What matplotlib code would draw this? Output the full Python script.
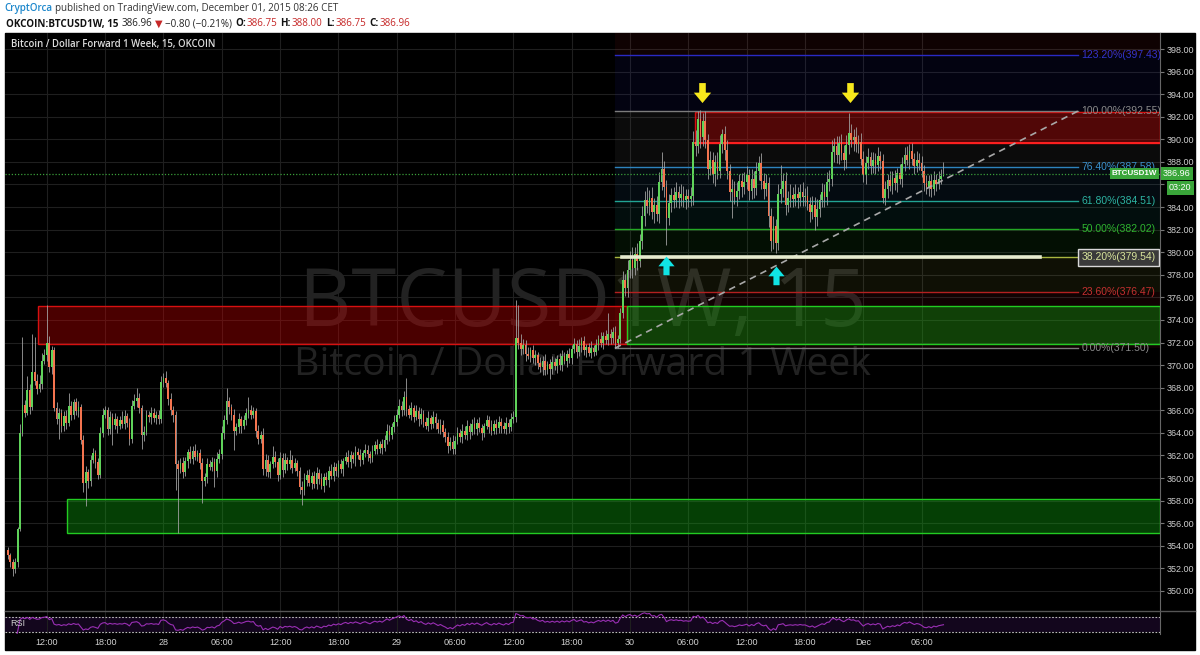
import numpy as np
import pandas as pd
import matplotlib
matplotlib.use('Agg')
import matplotlib.pyplot as plt
from matplotlib.patches import Rectangle
from matplotlib.lines import Line2D
from matplotlib.path import Path
import matplotlib.transforms as mtrans

# OKCOIN BTCUSD1W, 15 min bars, Nov 27 08:00 -> Dec 01 08:15 (CET)
close = [
    353.2, 352.6, 351.9, 352.6, 355.5, 364.0, 366.5, 365.8, 367.8, 366.3, 369.4, 368.6, 367.9, 368.3, 370.4, 370.9,
    372.0, 369.8, 371.3, 366.2, 365.2, 365.8, 364.6, 365.5, 364.9, 366.4, 365.6, 366.7, 365.9, 366.3, 363.4, 359.6, 360.5, 359.7, 361.6, 362.2, 361.4, 360.3, 364.0, 365.6,
    366.0, 364.3, 365.4, 364.7, 365.2, 364.6, 365.1, 364.8, 365.5, 364.9, 363.5, 366.4, 366.8, 367.1, 366.2, 363.8, 364.1, 365.6, 365.4, 365.8, 365.3, 365.6, 365.2, 368.5,
    368.9, 368.4, 367.0, 366.0, 365.6, 361.2, 360.8, 361.3, 360.5, 361.5, 362.3, 361.7, 362.4, 361.9, 362.2, 361.3, 359.7, 360.1, 361.2, 361.0, 361.4, 360.6, 361.7, 362.1,
    364.0, 365.1, 366.8, 366.3, 365.6, 364.2, 364.5, 365.2, 364.6, 365.1, 365.8, 366.0, 365.6, 365.9, 364.2, 363.5, 363.8, 360.8, 361.6, 360.5, 361.2, 361.9, 361.4, 360.3,
    361.8, 360.7, 361.6, 361.2, 361.6, 360.9, 361.3, 360.6, 359.2, 358.9, 359.8, 360.3, 359.6, 360.2, 359.5, 360.4, 359.9, 359.3, 360.1, 359.8, 360.6, 360.2, 361.0, 360.6,
    361.2, 360.8, 361.5, 361.9, 361.4, 362.0, 361.7, 362.3, 362.0, 361.6, 362.2, 362.5, 362.1, 361.8, 362.4, 362.9, 362.6, 363.0, 362.7, 363.4, 364.2, 363.8, 364.5, 365.0,
    365.6, 366.4, 366.0, 367.2, 366.1, 365.6, 366.2, 365.4, 365.9, 365.2, 365.7, 365.0, 364.6, 365.3, 364.8, 365.4, 364.9, 364.3, 364.7, 364.1, 363.6, 362.8, 363.2, 362.6,
    363.3, 364.0, 363.6, 364.2, 363.8, 364.6, 364.1, 364.8, 364.3, 364.9, 364.4, 364.0, 364.6, 365.1, 364.5, 364.2, 364.8, 364.4, 365.0, 364.6, 364.3, 364.9, 364.5, 365.2,
    365.4, 372.4, 372.0, 371.4, 371.8, 371.0, 370.8, 371.3, 370.6, 370.9, 370.2, 369.8, 370.4, 369.6, 370.1, 369.7, 370.3, 369.9, 370.5, 370.0, 370.8, 370.4, 371.0, 370.6,
    371.4, 371.9, 371.2, 371.7, 372.1, 371.3, 371.6, 371.1, 371.5, 371.2, 371.8, 372.3, 372.0, 372.6, 372.2, 372.8, 372.4, 372.9, 372.0, 372.3, 374.6, 377.5, 376.8, 378.4,
    379.3, 378.6, 379.8, 379.2, 381.0, 383.2, 384.6, 384.1, 384.8, 383.6, 384.2, 383.4, 386.2, 387.4, 385.8, 383.0, 384.4, 385.1, 384.6, 385.3, 384.8, 385.2, 384.6, 385.0,
    384.7, 385.0, 389.8, 389.4, 391.8, 390.2, 391.6, 389.9, 387.4, 388.2, 386.9, 388.0, 387.2, 389.6, 390.5, 389.1, 387.2, 385.3, 385.6, 384.9, 385.4, 386.3, 385.8, 386.2,
    386.8, 385.4, 386.5, 385.7, 387.2, 387.9, 386.3, 385.6, 386.1, 383.2, 381.0, 382.3, 380.8, 385.2, 385.6, 386.3, 384.2, 384.8, 385.1, 384.7, 385.2, 384.8, 385.3, 384.9,
    385.0, 384.3, 383.6, 384.2, 383.1, 383.8, 384.6, 385.3, 384.9, 386.2, 386.5, 388.9, 389.4, 388.6, 389.7, 388.8, 388.2, 389.5, 390.6, 389.9, 390.2, 389.6, 389.8, 388.3,
    386.8, 387.9, 388.4, 387.6, 388.2, 387.7, 388.5, 388.1, 384.8, 385.6, 386.4, 385.9, 386.6, 386.1, 387.0, 386.5, 387.8, 388.6, 388.2, 389.0, 388.3, 387.6, 388.2, 387.9,
    387.2, 386.1, 385.8, 386.3, 385.6, 386.4, 386.0, 386.5, 386.75, 386.96,
]
first_open = 353.6

# wick lengths above / below the body, in tenths of a dollar
wick_up = [
    3, 2, 2, 3, 2, 8, 60, 4, 12, 5, 34, 31, 6, 8, 7, 5,
    33, 6, 4, 3, 5, 4, 3, 4, 5, 11, 4, 3, 4, 5, 3, 4, 6, 3, 4, 5, 3, 4, 5, 6,
    4, 3, 5, 4, 6, 3, 4, 8, 5, 3, 4, 5, 6, 9, 4, 3, 5, 4, 3, 5, 4, 3, 4, 5,
    4, 6, 3, 5, 4, 3, 4, 5, 6, 4, 3, 5, 4, 6, 3, 4, 5, 3, 6, 4, 5, 4, 6, 5,
    6, 5, 12, 4, 3, 5, 4, 6, 3, 5, 4, 12, 5, 4, 3, 5, 4, 6, 5, 4, 3, 9, 5, 4,
    5, 4, 6, 3, 9, 4, 5, 3, 4, 5, 6, 4, 5, 3, 4, 6, 4, 5, 3, 4, 5, 6, 4, 3,
    4, 5, 3, 4, 6, 4, 3, 5, 4, 6, 3, 5, 4, 3, 5, 4, 6, 3, 5, 4, 6, 5, 4, 6,
    5, 6, 4, 5, 17, 4, 5, 3, 6, 4, 5, 3, 4, 6, 3, 5, 4, 3, 5, 4, 3, 5, 4, 6,
    4, 5, 3, 6, 4, 5, 3, 4, 6, 3, 5, 4, 3, 5, 4, 6, 3, 4, 5, 3, 4, 5, 3, 6,
    5, 34, 29, 8, 5, 4, 6, 3, 5, 4, 3, 5, 4, 6, 3, 4, 5, 3, 4, 6, 5, 4, 3, 5,
    4, 5, 3, 6, 4, 5, 3, 4, 6, 3, 5, 4, 6, 3, 5, 18, 4, 5, 6, 4, 5, 8, 6, 9,
    8, 12, 7, 10, 6, 9, 8, 12, 7, 10, 6, 8, 9, 15, 7, 6, 8, 6, 7, 9, 6, 8, 7, 6,
    6, 8, 9, 10, 7, 8, 7, 9, 6, 8, 7, 6, 9, 8, 4, 7, 8, 6, 9, 7, 8, 6, 7, 9,
    8, 6, 9, 7, 8, 6, 9, 7, 8, 6, 7, 9, 6, 8, 21, 7, 8, 6, 9, 7, 8, 6, 7, 9,
    7, 9, 6, 8, 7, 9, 6, 8, 7, 9, 8, 10, 7, 9, 6, 8, 7, 9, 17, 8, 7, 9, 6, 8,
    7, 6, 8, 5, 7, 6, 8, 5, 6, 7, 5, 8, 6, 7, 5, 8, 6, 7, 8, 6, 7, 5, 8, 6,
    6, 5, 7, 5, 6, 8, 5, 7, 6, 10,
]
wick_dn = [
    4, 5, 6, 3, 5, 2, 3, 4, 2, 6, 3, 4, 5, 3, 4, 3,
    5, 4, 6, 3, 4, 17, 5, 4, 6, 3, 5, 4, 3, 5, 4, 8, 21, 6, 4, 3, 5, 4, 3, 4,
    3, 5, 4, 18, 4, 6, 3, 4, 5, 4, 6, 4, 3, 5, 4, 12, 5, 3, 4, 6, 3, 5, 4, 3,
    4, 3, 5, 4, 6, 23, 57, 4, 5, 3, 6, 4, 5, 3, 4, 5, 19, 4, 5, 3, 4, 14, 5, 4,
    4, 5, 3, 6, 5, 17, 4, 5, 6, 3, 4, 5, 4, 3, 6, 5, 4, 5, 6, 4, 5, 3, 4, 6,
    4, 6, 3, 5, 4, 5, 3, 4, 6, 13, 4, 5, 3, 6, 4, 5, 4, 3, 5, 4, 6, 3, 5, 4,
    5, 4, 6, 3, 4, 5, 4, 6, 3, 5, 4, 3, 6, 5, 4, 3, 5, 4, 6, 3, 4, 5, 3, 4,
    4, 3, 5, 4, 6, 3, 5, 4, 3, 6, 4, 5, 3, 4, 5, 4, 6, 3, 4, 5, 4, 6, 3, 5,
    5, 3, 4, 5, 3, 4, 6, 3, 4, 5, 3, 6, 4, 3, 5, 4, 3, 5, 4, 6, 3, 4, 5, 3,
    3, 4, 6, 5, 4, 6, 3, 5, 4, 6, 5, 4, 7, 5, 4, 9, 5, 3, 6, 4, 5, 3, 6, 4,
    5, 3, 6, 4, 5, 4, 6, 3, 5, 4, 3, 5, 4, 6, 3, 4, 5, 4, 5, 5, 3, 4, 7, 8,
    7, 9, 6, 8, 5, 7, 9, 6, 8, 7, 10, 6, 8, 7, 9, 24, 6, 8, 7, 6, 9, 7, 6, 8,
    7, 6, 8, 9, 6, 10, 8, 7, 9, 6, 8, 10, 7, 6, 8, 9, 7, 8, 23, 6, 8, 7, 9, 6,
    6, 8, 7, 9, 6, 8, 7, 9, 6, 10, 9, 7, 9, 6, 8, 7, 9, 6, 8, 7, 6, 9, 7, 8,
    8, 6, 9, 7, 11, 8, 7, 6, 9, 7, 8, 6, 9, 7, 8, 6, 9, 7, 8, 6, 9, 7, 8, 6,
    6, 8, 5, 7, 6, 8, 5, 7, 4, 6, 8, 5, 7, 6, 8, 5, 7, 6, 5, 8, 6, 7, 5, 6,
    5, 7, 6, 8, 7, 5, 6, 4, 5, 0,
]

# fibonacci retracement drawn by the author
fib_low, fib_high = 371.50, 392.55
fib_levels = [0.0, 0.236, 0.382, 0.5, 0.618, 0.764, 1.0, 1.232, 1.618]
fib_line_col = ['#7c7c7c', '#b32020', '#a8b640', '#24a824', '#21a493', '#2d83bd', '#7c7c7c', '#2a2ac4', '#b02020']
fib_text_col = ['#8a8a8a', '#c43030', '#d8e49c', '#2fb52f', '#2db3a2', '#3a90cc', '#8a8a8a', '#3434cc', '#c03030']

# price zones: (first bar, last bar, low, high, colour)
XMIN, XMAX = -1.2, 474.1
zones = [
    (12.3, 254.6, 371.9, 375.2, 'red'),
    (282.7, XMAX, 389.7, 392.45, 'red'),
    (254.6, XMAX, 371.9, 375.2, 'green'),
    (24.3, XMAX, 355.1, 358.1, 'green'),
]
fib_x0, fib_x1 = 249.8, 440.3
trend = ((249.8, 371.5), (440.3, 392.5))
hline_382 = (252.7, 424.7)
yellow_arrows = [(285.6, 394.1), (346.6, 394.1)]   # (bar, price at arrow centre)
cyan_arrows = [(271.0, 378.9), (316.1, 378.0)]
last_price = 386.96

n = len(close)
close = np.array(close)
opn = np.r_[first_open, close[:-1]]
hi = np.maximum(opn, close) + np.array(wick_up) / 10
lo = np.minimum(opn, close) - np.array(wick_dn) / 10
x = np.arange(n)
times = pd.date_range('2015-11-27 08:00', periods=n, freq='15min')

# RSI 14 (Wilder)
d = pd.Series(close).diff()
g = d.clip(lower=0).ewm(alpha=1 / 14, adjust=False).mean()
l = (-d.clip(upper=0)).ewm(alpha=1 / 14, adjust=False).mean()
rsi = (100 - 100 / (1 + g / l)).bfill().values

AXF = ['Liberation Sans', 'DejaVu Sans']
HDF = ['Open Sans', 'DejaVu Sans']
W, H = 1200, 655

fig = plt.figure(figsize=(12, 6.55), dpi=100, facecolor='white')
fig.patches.append(Rectangle((5 / W, 1 - 650 / H), 1190 / W, 617 / H,
                             transform=fig.transFigure, color='black', zorder=-5))
ax = fig.add_axes([5 / W, 1 - 611 / H, 1155 / W, 578 / H])
rax = fig.add_axes([5 / W, 1 - 634 / H, 1155 / W, 23 / H], sharex=ax)
for a in (ax, rax):
    a.set_facecolor('black')
    for s in a.spines.values():
        s.set_visible(False)
ax.spines['right'].set_visible(True)
ax.spines['right'].set_color('#666666')
rax.spines['right'].set_visible(True)
rax.spines['right'].set_color('#666666')
fig.add_artist(Line2D([5 / W, 1195 / W], [1 - 611 / H] * 2, color='#555555', lw=1))

ax.set_xlim(XMIN, XMAX)
ax.set_ylim(348.22, 399.42)

# time ticks every 6 hours
tick_pos, tick_lab = [], []
for i, t in enumerate(times):
    if t.minute == 0 and t.hour % 6 == 0:
        tick_pos.append(i)
        if t.hour == 0:
            tick_lab.append('Dec' if t.day == 1 else str(t.day))
        else:
            tick_lab.append(t.strftime('%H:%M'))

yt = np.arange(350, 399, 2)
ax.yaxis.tick_right()
ax.set_yticks(yt)
ax.set_yticklabels([f'{v:.2f}' for v in yt], family=AXF)
ax.tick_params(axis='y', colors='#777777', labelcolor='#cfcfcf', labelsize=6.5, length=3, pad=2)
ax.tick_params(axis='x', length=0, labelbottom=False)
ax.set_xticks(tick_pos)
ax.grid(True, color='#1f1f1f', lw=0.8, zorder=0)
ax.set_axisbelow(True)

# watermark
ax.text(0.5, 0.53, 'BTCUSD1W, 15', transform=ax.transAxes, ha='center', va='center',
        fontsize=58.5, color='#222222', family=HDF, zorder=0.6)
ax.text(0.5, 0.425, 'Bitcoin / Dollar Forward 1 Week', transform=ax.transAxes, ha='center', va='center',
        fontsize=28.3, color='#222222', family=HDF, zorder=0.6)

# fib bands and levels
prices = [fib_low + f * (fib_high - fib_low) for f in fib_levels]
for k in range(len(prices) - 1):
    ax.fill_between([fib_x0, XMAX], prices[k], prices[k + 1], color=fib_line_col[k + 1],
                    alpha=0.09, lw=0, zorder=0.7)
for f, p, lc, tc in zip(fib_levels[:-1], prices, fib_line_col, fib_text_col):
    ax.plot([fib_x0, fib_x1], [p, p], color=lc, lw=1, zorder=1.5)
    lab = ax.text(fib_x1 + 1.5, p, f'{f * 100:.2f}%({p:.2f})', color=tc, fontsize=7.5,
                  va='center', ha='left', family=AXF, clip_on=True, zorder=3)
    if f == 0.382:
        lab.set_bbox(dict(boxstyle='square,pad=0.3', fc='#3a3a3a', ec='#d8d8d8', lw=1))

# zones
for x0, x1, y0, y1, c in zones:
    fc, ec = ('#d00000', '#d81010') if c == 'red' else ('#10b010', '#22cc22')
    ax.add_patch(Rectangle((x0, y0), x1 - x0, y1 - y0, fc=fc, alpha=0.36, lw=0, zorder=1))
    ax.add_patch(Rectangle((x0, y0), x1 - x0, y1 - y0, fc='none', ec=ec, lw=1, zorder=1.2))
ax.plot([zones[1][0], XMAX], [zones[1][2]] * 2, color='#ff2020', lw=1.4, zorder=1.3)

# candles
up = close >= opn
ax.vlines(x, lo, hi, color='#a0a0a0', lw=0.6, zorder=2)
body = np.maximum(np.abs(close - opn), 0.08)
ax.bar(x[up], body[up], bottom=np.minimum(opn, close)[up], width=0.72, color='#5fd35a', lw=0, zorder=2.2)
ax.bar(x[~up], body[~up], bottom=np.minimum(opn, close)[~up], width=0.72, color='#f4744f', lw=0, zorder=2.2)

# drawings
ax.plot(*zip(*trend), color='#a8a8a8', lw=1.2, ls=(0, (4, 3)), zorder=2.5)
ax.plot(hline_382, [prices[2]] * 2, color='#e6ebcf', lw=2.6, zorder=2.6)

arrow_dn = Path([(-0.19, 0.6), (0.19, 0.6), (0.19, 0.05), (0.5, 0.05), (0.0, -0.55),
                 (-0.5, 0.05), (-0.19, 0.05), (-0.19, 0.6)],
                [Path.MOVETO] + [Path.LINETO] * 6 + [Path.CLOSEPOLY])
arrow_up = Path(arrow_dn.vertices * [1, -1], arrow_dn.codes)
for xa, ya in yellow_arrows:
    ax.plot(xa, ya, marker=arrow_dn, ms=15, color='#f7e81c', mec='none', zorder=4)
for xa, ya in cyan_arrows:
    ax.plot(xa, ya, marker=arrow_up, ms=14, color='#10e4e4', mec='none', zorder=4)

# last price line and tags
ax.axhline(last_price, color='#3a9e3a', lw=0.9, ls=(0, (1, 1.5)), zorder=2.8)
blend = mtrans.blended_transform_factory(ax.transAxes, ax.transData)
tag = dict(boxstyle='square,pad=0.25', fc='#3aa63a', ec='none')
ax.text(0.9975, last_price, 'BTCUSD1W', transform=blend, ha='right', va='center', fontsize=5.8,
        color='white', weight='bold', family=AXF, bbox=tag, zorder=20)
ax.text(1.0025, last_price, '386.96', transform=blend, ha='left', va='center', fontsize=6.5,
        color='white', family=AXF, bbox=tag, clip_on=False, zorder=20)
ax.text(1.0175, 385.70, '03:20', transform=blend, ha='center', va='center', fontsize=6.5,
        color='white', family=AXF, bbox=tag, clip_on=False, zorder=20)

ax.text(6 / 1155, 1 - 12 / 578, 'Bitcoin / Dollar Forward 1 Week, 15, OKCOIN', transform=ax.transAxes,
        ha='left', va='center', fontsize=6.9, color='#dddddd', weight='semibold', family=HDF, zorder=20)

# RSI pane
rax.set_ylim(26, 85.5)
rax.axhspan(30, 70, color='#13061d', lw=0, zorder=0.5)
for lvl in (70, 30):
    rax.axhline(lvl, color='#bdbdbd', lw=0.8, ls=(0, (1.5, 1.5)), zorder=1)
rax.plot(x, rsi, color='#9a2fb4', lw=0.8, zorder=2)
rax.set_xticks(tick_pos)
rax.set_xticklabels(tick_lab, family=AXF)
rax.tick_params(axis='x', length=0, labelsize=6.5, labelcolor='#cfcfcf', pad=3)
rax.tick_params(axis='y', left=False, right=False, labelleft=False)
rax.grid(True, axis='x', color='#1f1f1f', lw=0.8)
rax.set_axisbelow(True)
rax.text(5 / 1155, 0.45, 'RSI', transform=rax.transAxes, fontsize=6.5, color='#cfcfcf',
         va='center', family=AXF)


# header text, laid out run by run
def runs(xpx, ypx, parts, size):
    r = fig.canvas.get_renderer()
    xf = xpx / W
    for txt, col, wt, gap in parts:
        t = fig.text(xf, 1 - ypx / H, txt, color=col, weight=wt, fontsize=size,
                     va='center', ha='left', family=HDF)
        xf += (t.get_window_extent(renderer=r).width + gap) / W


runs(4, 9, [('CryptOrca', '#1e88cc', 'semibold', 3),
            ('published on TradingView.com, December 01, 2015 08:26 CET', '#333333', 'normal', 0)], 7.1)
red = '#c62828'
runs(6, 24, [('OKCOIN:BTCUSD1W, 15', '#111111', 'bold', 3),
             ('386.96', '#222222', 'normal', 3),
             ('\u25bc', red, 'normal', 2),
             ('\u22120.80 (\u22120.21%)', '#222222', 'normal', 3),
             ('O:', '#111111', 'bold', 1), ('386.75', red, 'normal', 3),
             ('H:', '#111111', 'bold', 1), ('388.00', red, 'normal', 3),
             ('L:', '#111111', 'bold', 1), ('386.75', red, 'normal', 3),
             ('C:', '#111111', 'bold', 1), ('386.96', red, 'normal', 0)], 7.1)

fig.savefig('out.png', dpi=100, facecolor='white')
